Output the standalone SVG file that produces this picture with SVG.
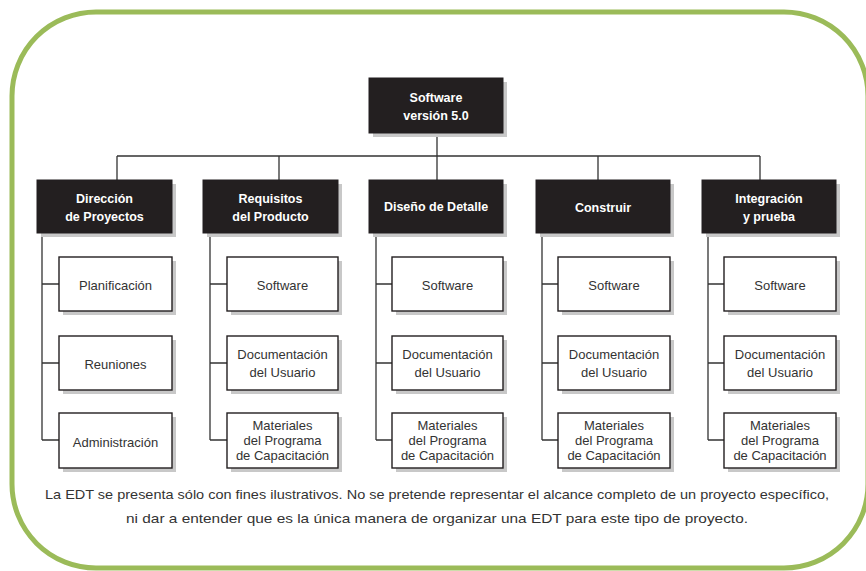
<svg xmlns="http://www.w3.org/2000/svg" width="866" height="571" viewBox="0 0 866 571">
<style>
.frame{fill:none;stroke:#9bbb59;stroke-width:5}
.shadow{fill:#c8c8c8}
.dark{fill:#231f20;stroke:#231f20;stroke-width:1}
.light{fill:#ffffff;stroke:#231f20;stroke-width:1.4}
.ht{font-family:"Liberation Sans",Arial,sans-serif;font-weight:bold;font-size:12.5px;fill:#ffffff;text-anchor:middle}
.ct{font-family:"Liberation Sans",Arial,sans-serif;font-size:13px;fill:#333333;text-anchor:middle}
.cap{font-family:"Liberation Sans",Arial,sans-serif;font-size:13.5px;fill:#333333;text-anchor:middle}
.conn{fill:none;stroke:#333333;stroke-width:1.3}
</style>
<rect width="866" height="571" fill="#ffffff"/>
<rect class="frame" x="12" y="12" width="856" height="556" rx="84" ry="84"/>

<g id="connectors">
<path class="conn" d="M437 133V180M117 156H760M117 156V180M279 156V180M598 156V180M760 156V180"/>
<path class="conn" d="M42 233V440M42 284H59M42 363H59M42 440H59"/>
<path class="conn" d="M210 233V440M210 284H227M210 363H227M210 440H227"/>
<path class="conn" d="M376 233V440M376 284H392M376 363H392M376 440H392"/>
<path class="conn" d="M542 233V440M542 284H558M542 363H558M542 440H558"/>
<path class="conn" d="M708 233V440M708 284H724M708 363H724M708 440H724"/>
</g>

<g id="root">
<rect class="shadow" x="373" y="82" width="134" height="55"/>
<rect class="dark" x="369" y="78" width="134" height="55"/>
<text class="ht" x="436" y="102">Software</text>
<text class="ht" x="436" y="120">versión 5.0</text>
</g>

<g id="n1">
<rect class="shadow" x="41" y="184" width="135" height="53"/>
<rect class="dark" x="37" y="180" width="135" height="53"/>
<text class="ht" x="104.5" y="203">Dirección</text>
<text class="ht" x="104.5" y="221">de Proyectos</text>
</g>
<g id="n2">
<rect class="shadow" x="207" y="184" width="135" height="53"/>
<rect class="dark" x="203" y="180" width="135" height="53"/>
<text class="ht" x="270.5" y="203">Requisitos</text>
<text class="ht" x="270.5" y="221">del Producto</text>
</g>
<g id="n3">
<rect class="shadow" x="373" y="184" width="134" height="53"/>
<rect class="dark" x="369" y="180" width="134" height="53"/>
<text class="ht" x="436" y="211">Diseño de Detalle</text>
</g>
<g id="n4">
<rect class="shadow" x="540" y="184" width="134" height="53"/>
<rect class="dark" x="536" y="180" width="134" height="53"/>
<text class="ht" x="603" y="212">Construir</text>
</g>
<g id="n5">
<rect class="shadow" x="706" y="184" width="134" height="53"/>
<rect class="dark" x="702" y="180" width="134" height="53"/>
<text class="ht" x="769" y="203">Integración</text>
<text class="ht" x="769" y="221">y prueba</text>
</g>

<g id="n1a">
<rect class="shadow" x="63" y="261" width="113" height="54"/>
<rect class="light" x="59" y="257" width="113" height="54"/>
<text class="ct" x="115.5" y="290">Planificación</text>
</g>
<g id="n1b">
<rect class="shadow" x="63" y="340" width="113" height="54"/>
<rect class="light" x="59" y="336" width="113" height="54"/>
<text class="ct" x="115.5" y="369">Reuniones</text>
</g>
<g id="n1c">
<rect class="shadow" x="63" y="417" width="113" height="55"/>
<rect class="light" x="59" y="413" width="113" height="55"/>
<text class="ct" x="115.5" y="447">Administración</text>
</g>

<g id="n2a">
<rect class="shadow" x="231" y="261" width="111" height="54"/>
<rect class="light" x="227" y="257" width="111" height="54"/>
<text class="ct" x="282.5" y="290">Software</text>
</g>
<g id="n2b">
<rect class="shadow" x="231" y="340" width="111" height="54"/>
<rect class="light" x="227" y="336" width="111" height="54"/>
<text class="ct" x="282.5" y="359">Documentación</text>
<text class="ct" x="282.5" y="377">del Usuario</text>
</g>
<g id="n2c">
<rect class="shadow" x="231" y="417" width="111" height="55"/>
<rect class="light" x="227" y="413" width="111" height="55"/>
<text class="ct" x="282.5" y="430">Materiales</text>
<text class="ct" x="282.5" y="445">del Programa</text>
<text class="ct" x="282.5" y="460">de Capacitación</text>
</g>

<g id="n3a">
<rect class="shadow" x="396" y="261" width="111" height="54"/>
<rect class="light" x="392" y="257" width="111" height="54"/>
<text class="ct" x="447.5" y="290">Software</text>
</g>
<g id="n3b">
<rect class="shadow" x="396" y="340" width="111" height="54"/>
<rect class="light" x="392" y="336" width="111" height="54"/>
<text class="ct" x="447.5" y="359">Documentación</text>
<text class="ct" x="447.5" y="377">del Usuario</text>
</g>
<g id="n3c">
<rect class="shadow" x="396" y="417" width="111" height="55"/>
<rect class="light" x="392" y="413" width="111" height="55"/>
<text class="ct" x="447.5" y="430">Materiales</text>
<text class="ct" x="447.5" y="445">del Programa</text>
<text class="ct" x="447.5" y="460">de Capacitación</text>
</g>

<g id="n4a">
<rect class="shadow" x="562" y="261" width="112" height="54"/>
<rect class="light" x="558" y="257" width="112" height="54"/>
<text class="ct" x="614" y="290">Software</text>
</g>
<g id="n4b">
<rect class="shadow" x="562" y="340" width="112" height="54"/>
<rect class="light" x="558" y="336" width="112" height="54"/>
<text class="ct" x="614" y="359">Documentación</text>
<text class="ct" x="614" y="377">del Usuario</text>
</g>
<g id="n4c">
<rect class="shadow" x="562" y="417" width="112" height="55"/>
<rect class="light" x="558" y="413" width="112" height="55"/>
<text class="ct" x="614" y="430">Materiales</text>
<text class="ct" x="614" y="445">del Programa</text>
<text class="ct" x="614" y="460">de Capacitación</text>
</g>

<g id="n5a">
<rect class="shadow" x="728" y="261" width="112" height="54"/>
<rect class="light" x="724" y="257" width="112" height="54"/>
<text class="ct" x="780" y="290">Software</text>
</g>
<g id="n5b">
<rect class="shadow" x="728" y="340" width="112" height="54"/>
<rect class="light" x="724" y="336" width="112" height="54"/>
<text class="ct" x="780" y="359">Documentación</text>
<text class="ct" x="780" y="377">del Usuario</text>
</g>
<g id="n5c">
<rect class="shadow" x="728" y="417" width="112" height="55"/>
<rect class="light" x="724" y="413" width="112" height="55"/>
<text class="ct" x="780" y="430">Materiales</text>
<text class="ct" x="780" y="445">del Programa</text>
<text class="ct" x="780" y="460">de Capacitación</text>
</g>

<g id="caption">
<text class="cap" x="437" y="499" textLength="784" lengthAdjust="spacingAndGlyphs">La EDT se presenta sólo con fines ilustrativos. No se pretende representar el alcance completo de un proyecto específico,</text>
<text class="cap" x="437" y="523" textLength="622" lengthAdjust="spacingAndGlyphs">ni dar a entender que es la única manera de organizar una EDT para este tipo de proyecto.</text>
</g>
</svg>
